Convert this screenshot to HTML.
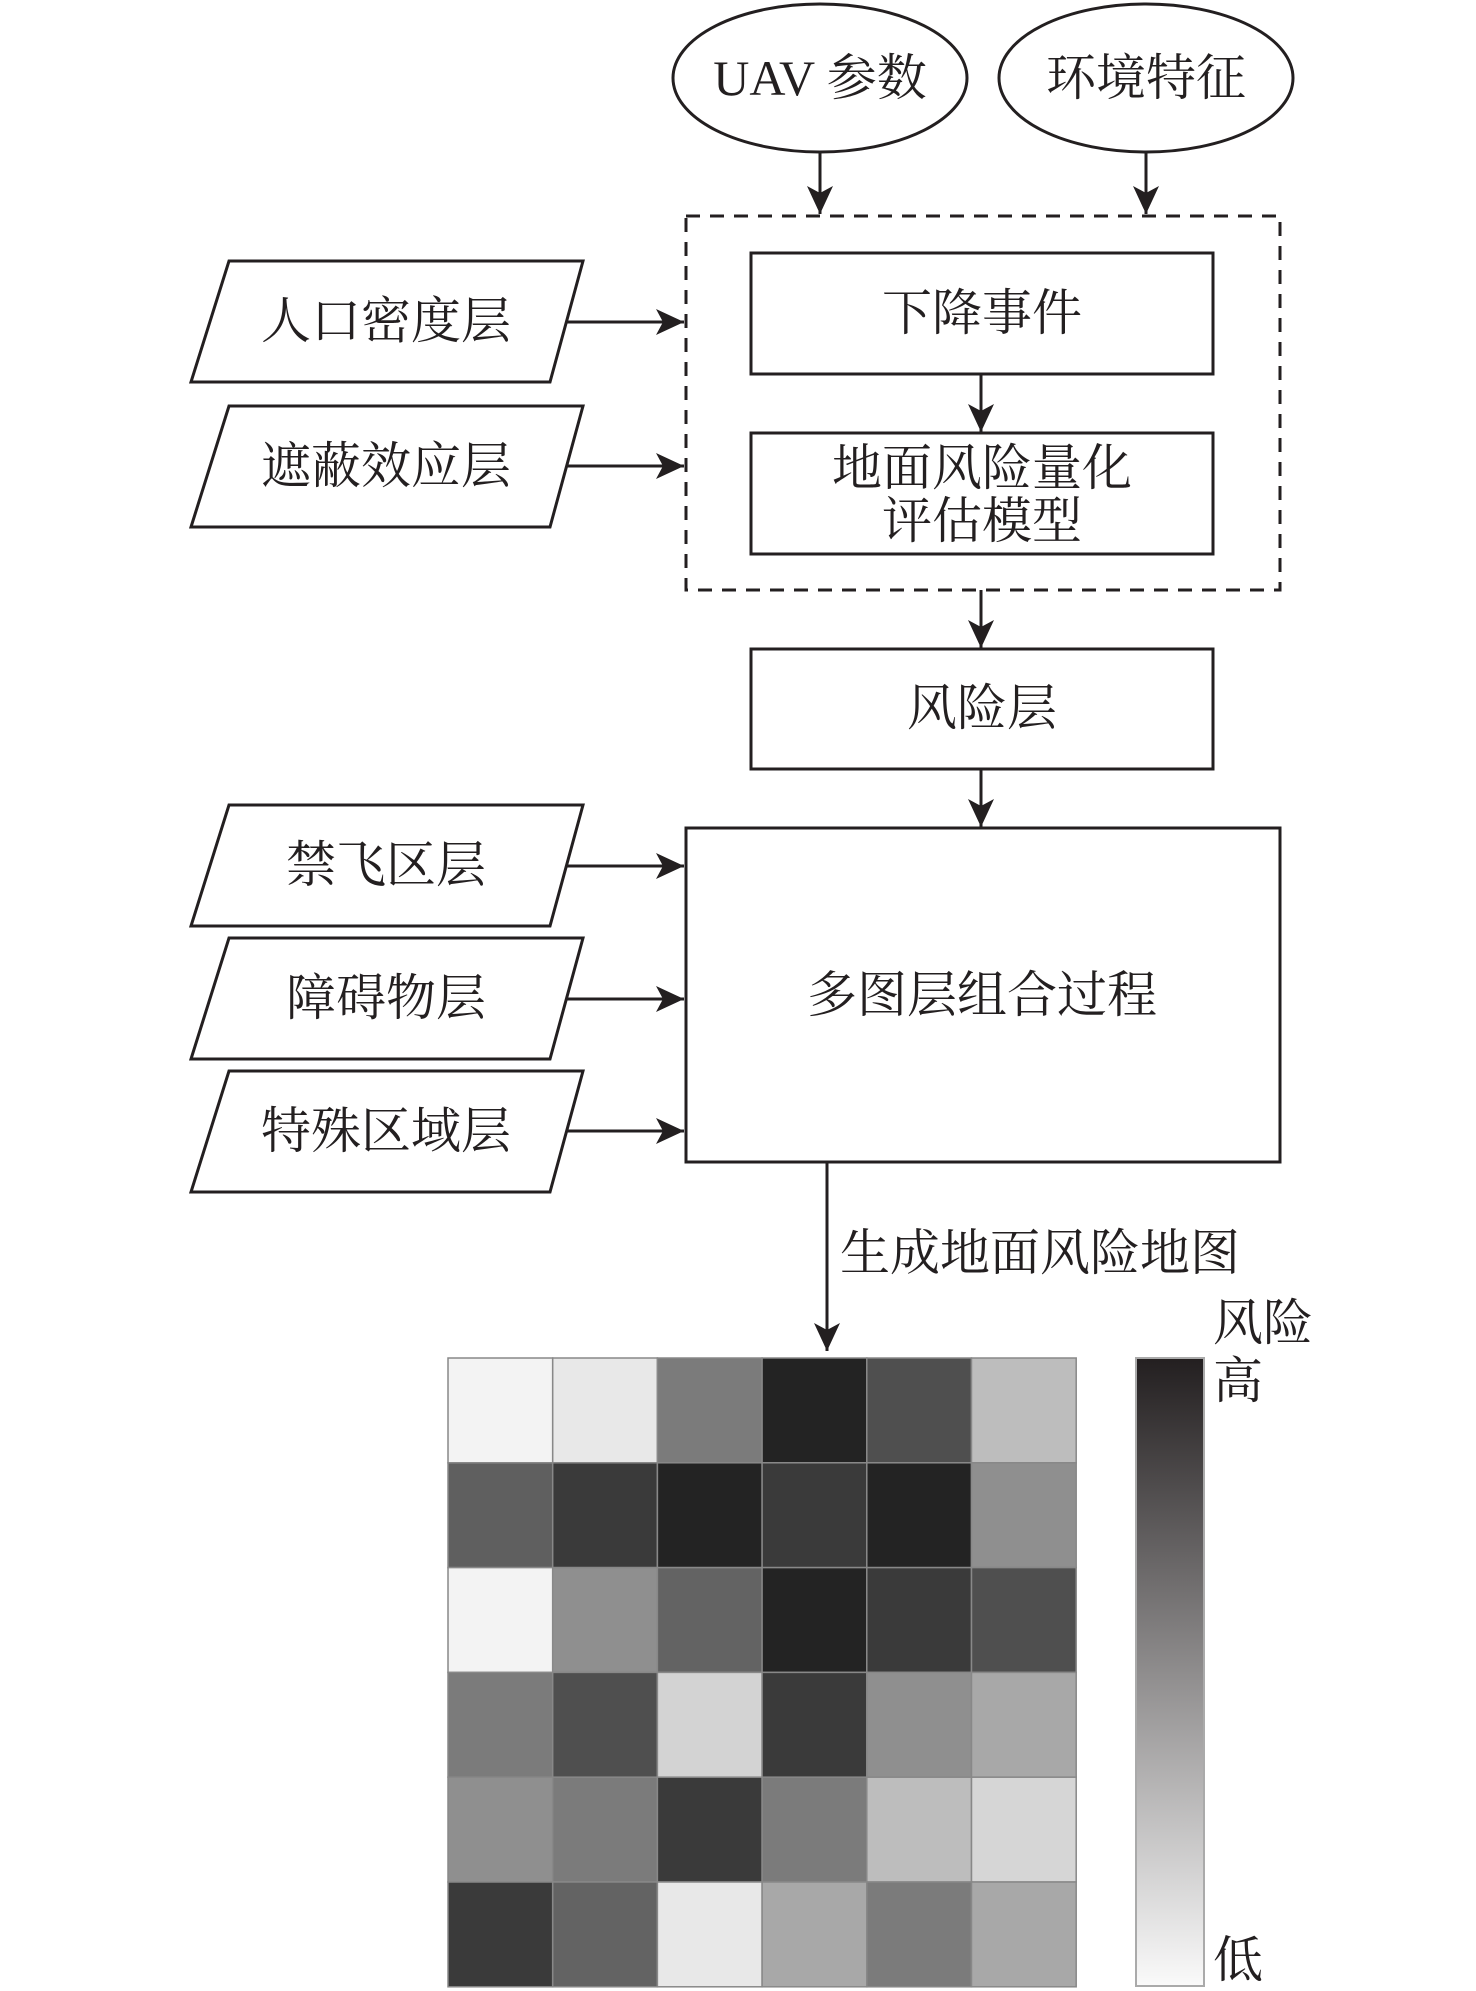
<!DOCTYPE html>
<html><head><meta charset="utf-8"><style>
html,body{margin:0;padding:0;background:#fff;}
svg{display:block;}
text{font-family:"Liberation Serif","Noto Serif CJK SC",serif;fill:#231f20;}
</style></head><body>
<svg width="1476" height="1991" viewBox="0 0 1476 1991" xmlns="http://www.w3.org/2000/svg">
<defs>
<marker id="ah2" markerWidth="28" markerHeight="26" viewBox="0 0 28 26" refX="28" refY="13" orient="auto" markerUnits="userSpaceOnUse">
<path d="M0,0 L28,13 L0,26 L7,13 Z" fill="#231f20"/>
</marker>
<linearGradient id="cb" x1="0" y1="0" x2="0" y2="1">
<stop offset="0" stop-color="#231f20"/>
<stop offset="1" stop-color="#fafafa"/>
</linearGradient>
</defs>
<g stroke="#231f20" stroke-width="3" fill="none">
<ellipse cx="820" cy="78" rx="147" ry="74"/>
<ellipse cx="1146" cy="78" rx="147" ry="74"/>
<rect x="686" y="216" width="594" height="374" stroke-dasharray="14,10"/>
<rect x="751" y="253" width="462" height="121"/>
<rect x="751" y="433" width="462" height="121"/>
<rect x="751" y="649" width="462" height="120"/>
<rect x="686" y="828" width="594" height="334"/>
<polygon points="229,261 583,261 550,382 191,382"/>
<polygon points="229,406 583,406 550,527 191,527"/>
<polygon points="229,805 583,805 550,926 191,926"/>
<polygon points="229,938 583,938 550,1059 191,1059"/>
<polygon points="229,1071 583,1071 550,1192 191,1192"/>
<g marker-end="url(#ah2)">
<line x1="820" y1="153" x2="820" y2="214"/>
<line x1="1146" y1="153" x2="1146" y2="214"/>
<line x1="981" y1="374" x2="981" y2="432"/>
<line x1="981" y1="590" x2="981" y2="648"/>
<line x1="981" y1="769" x2="981" y2="827"/>
<line x1="567" y1="322" x2="684" y2="322"/>
<line x1="567" y1="466" x2="684" y2="466"/>
<line x1="567" y1="866" x2="684" y2="866"/>
<line x1="567" y1="999" x2="684" y2="999"/>
<line x1="567" y1="1131" x2="684" y2="1131"/>
<line x1="827" y1="1162" x2="827" y2="1351"/>
</g>
</g>
<g font-size="50" text-anchor="middle">
<text x="820" y="95">UAV 参数</text>
<text x="1146" y="95">环境特征</text>
<text x="982" y="330">下降事件</text>
<text x="982" y="485">地面风险量化</text>
<text x="982" y="538">评估模型</text>
<text x="982" y="725">风险层</text>
<text x="982" y="1012">多图层组合过程</text>
<text x="386" y="338">人口密度层</text>
<text x="386" y="483">遮蔽效应层</text>
<text x="386" y="882">禁飞区层</text>
<text x="386" y="1015">障碍物层</text>
<text x="386" y="1148">特殊区域层</text>
</g>
<g font-size="50">
<text x="840" y="1270">生成地面风险地图</text>
<text x="1213" y="1340">风险</text>
<text x="1213" y="1398">高</text>
<text x="1213" y="1977">低</text>
</g>
<g stroke="#888" stroke-width="1.5">
<rect x="448" y="1358" width="104.7" height="104.8" fill="#f3f3f3"/>
<rect x="552.7" y="1358" width="104.7" height="104.8" fill="#e8e8e8"/>
<rect x="657.4" y="1358" width="104.7" height="104.8" fill="#7b7b7b"/>
<rect x="762.1" y="1358" width="104.7" height="104.8" fill="#232323"/>
<rect x="866.8" y="1358" width="104.7" height="104.8" fill="#4f4f4f"/>
<rect x="971.5" y="1358" width="104.7" height="104.8" fill="#bdbdbd"/>
<rect x="448" y="1462.8" width="104.7" height="104.8" fill="#5f5f5f"/>
<rect x="552.7" y="1462.8" width="104.7" height="104.8" fill="#3a3a3a"/>
<rect x="657.4" y="1462.8" width="104.7" height="104.8" fill="#232323"/>
<rect x="762.1" y="1462.8" width="104.7" height="104.8" fill="#3a3a3a"/>
<rect x="866.8" y="1462.8" width="104.7" height="104.8" fill="#232323"/>
<rect x="971.5" y="1462.8" width="104.7" height="104.8" fill="#8f8f8f"/>
<rect x="448" y="1567.6" width="104.7" height="104.8" fill="#f3f3f3"/>
<rect x="552.7" y="1567.6" width="104.7" height="104.8" fill="#8f8f8f"/>
<rect x="657.4" y="1567.6" width="104.7" height="104.8" fill="#636363"/>
<rect x="762.1" y="1567.6" width="104.7" height="104.8" fill="#232323"/>
<rect x="866.8" y="1567.6" width="104.7" height="104.8" fill="#3a3a3a"/>
<rect x="971.5" y="1567.6" width="104.7" height="104.8" fill="#4f4f4f"/>
<rect x="448" y="1672.4" width="104.7" height="104.8" fill="#7b7b7b"/>
<rect x="552.7" y="1672.4" width="104.7" height="104.8" fill="#4f4f4f"/>
<rect x="657.4" y="1672.4" width="104.7" height="104.8" fill="#d3d3d3"/>
<rect x="762.1" y="1672.4" width="104.7" height="104.8" fill="#3a3a3a"/>
<rect x="866.8" y="1672.4" width="104.7" height="104.8" fill="#8f8f8f"/>
<rect x="971.5" y="1672.4" width="104.7" height="104.8" fill="#a8a8a8"/>
<rect x="448" y="1777.2" width="104.7" height="104.8" fill="#8f8f8f"/>
<rect x="552.7" y="1777.2" width="104.7" height="104.8" fill="#7b7b7b"/>
<rect x="657.4" y="1777.2" width="104.7" height="104.8" fill="#3a3a3a"/>
<rect x="762.1" y="1777.2" width="104.7" height="104.8" fill="#7b7b7b"/>
<rect x="866.8" y="1777.2" width="104.7" height="104.8" fill="#bdbdbd"/>
<rect x="971.5" y="1777.2" width="104.7" height="104.8" fill="#d6d6d6"/>
<rect x="448" y="1882" width="104.7" height="104.8" fill="#3a3a3a"/>
<rect x="552.7" y="1882" width="104.7" height="104.8" fill="#636363"/>
<rect x="657.4" y="1882" width="104.7" height="104.8" fill="#e8e8e8"/>
<rect x="762.1" y="1882" width="104.7" height="104.8" fill="#a8a8a8"/>
<rect x="866.8" y="1882" width="104.7" height="104.8" fill="#7b7b7b"/>
<rect x="971.5" y="1882" width="104.7" height="104.8" fill="#a8a8a8"/>
</g>
<rect x="1136" y="1358" width="68" height="628" fill="url(#cb)" stroke="#aaa" stroke-width="2"/>
</svg>
</body></html>
